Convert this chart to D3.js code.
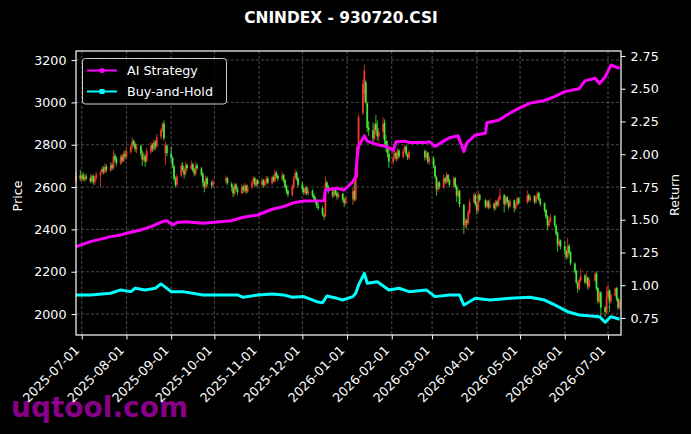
<!DOCTYPE html>
<html>
<head>
<meta charset="utf-8">
<script src="https://cdn.jsdelivr.net/npm/d3@7"></script>
<style>
html, body { margin: 0; padding: 0; background: #000; }
svg { display: block; font-family: "DejaVu Sans", sans-serif; }
</style>
</head>
<body>
<svg id="chart"></svg>
<script>
const width = 691;
const height = 434;
const plotLeft = 76, plotRight = 621, plotTop = 51, plotBottom = 335;

// date, open, high, low, close
const candles = [
["2025-06-27",2632,2668,2618,2650],["2025-06-30",2655,2682,2628,2640],
["2025-07-01",2638,2664,2626,2655],["2025-07-02",2658,2670,2630,2635],["2025-07-03",2632,2660,2624,2648],
["2025-07-04",2650,2664,2632,2640],["2025-07-07",2642,2656,2618,2628],["2025-07-08",2626,2662,2620,2650],
["2025-07-09",2652,2660,2612,2625],["2025-07-10",2622,2652,2610,2642],["2025-07-11",2640,2672,2635,2660],
["2025-07-14",2655,2680,2600,2668],["2025-07-15",2670,2698,2662,2685],["2025-07-16",2688,2700,2660,2672],
["2025-07-17",2670,2712,2664,2695],["2025-07-18",2698,2708,2668,2680],["2025-07-21",2678,2718,2672,2700],
["2025-07-22",2705,2715,2680,2690],["2025-07-23",2688,2775,2682,2745],["2025-07-24",2748,2760,2718,2730],
["2025-07-25",2735,2745,2698,2712],["2025-07-28",2710,2752,2705,2740],["2025-07-29",2745,2756,2715,2725],
["2025-07-30",2722,2768,2718,2755],["2025-07-31",2758,2775,2732,2745],
["2025-08-01",2742,2785,2730,2770],["2025-08-04",2765,2802,2755,2790],["2025-08-05",2792,2835,2780,2815],
["2025-08-06",2818,2826,2790,2800],["2025-08-07",2802,2812,2765,2780],["2025-08-08",2778,2805,2760,2790],
["2025-08-11",2795,2800,2748,2760],["2025-08-12",2758,2772,2700,2730],["2025-08-13",2728,2765,2718,2745],
["2025-08-14",2748,2755,2695,2720],["2025-08-15",2722,2785,2715,2770],["2025-08-18",2768,2812,2755,2795],
["2025-08-19",2800,2808,2765,2780],["2025-08-20",2778,2825,2770,2810],["2025-08-21",2815,2822,2775,2790],
["2025-08-22",2792,2850,2785,2835],["2025-08-25",2838,2880,2825,2870],["2025-08-26",2868,2905,2860,2895],
["2025-08-27",2900,2915,2820,2830],["2025-08-28",2760,2815,2705,2800],["2025-08-29",2795,2800,2745,2760],
["2025-09-01",2758,2790,2720,2740],["2025-09-02",2738,2745,2690,2700],["2025-09-03",2698,2705,2630,2640],
["2025-09-04",2638,2650,2598,2610],["2025-09-05",2612,2662,2605,2650],["2025-09-08",2655,2712,2645,2700],
["2025-09-09",2702,2718,2672,2680],["2025-09-10",2678,2690,2640,2660],["2025-09-11",2662,2720,2655,2700],
["2025-09-12",2705,2712,2678,2690],["2025-09-15",2688,2725,2680,2705],["2025-09-16",2708,2715,2672,2680],
["2025-09-17",2682,2690,2650,2665],["2025-09-18",2660,2718,2655,2700],["2025-09-19",2702,2712,2680,2690],
["2025-09-22",2688,2695,2650,2660],["2025-09-23",2662,2670,2605,2620],["2025-09-24",2622,2630,2575,2600],
["2025-09-25",2598,2655,2592,2640],["2025-09-26",2642,2650,2605,2615],["2025-09-29",2618,2630,2595,2610],
["2025-09-30",2608,2640,2600,2625],
["2025-10-09",2628,2655,2615,2640],["2025-10-10",2642,2648,2610,2620],["2025-10-13",2615,2625,2580,2600],
["2025-10-14",2598,2605,2552,2570],["2025-10-15",2568,2620,2560,2610],["2025-10-16",2612,2618,2580,2590],
["2025-10-17",2588,2598,2562,2575],["2025-10-20",2572,2615,2565,2600],["2025-10-21",2602,2610,2572,2585],
["2025-10-22",2582,2620,2575,2605],["2025-10-23",2608,2612,2568,2580],["2025-10-24",2578,2612,2572,2600],
["2025-10-27",2602,2632,2592,2620],["2025-10-28",2622,2652,2615,2640],["2025-10-29",2642,2648,2600,2610],
["2025-10-30",2608,2640,2598,2630],["2025-10-31",2632,2638,2605,2615],
["2025-11-03",2612,2645,2605,2630],["2025-11-04",2632,2638,2598,2610],["2025-11-05",2608,2635,2600,2625],
["2025-11-06",2622,2652,2615,2640],["2025-11-07",2642,2650,2612,2620],["2025-11-10",2618,2655,2610,2645],
["2025-11-11",2648,2655,2622,2630],["2025-11-12",2628,2682,2622,2665],["2025-11-13",2668,2675,2640,2650],
["2025-11-14",2652,2660,2628,2640],["2025-11-17",2638,2672,2630,2655],["2025-11-18",2658,2662,2620,2630],
["2025-11-19",2632,2638,2592,2600],["2025-11-20",2602,2610,2568,2580],["2025-11-21",2582,2590,2552,2565],
["2025-11-24",2562,2612,2555,2600],["2025-11-25",2598,2650,2592,2640],["2025-11-26",2642,2682,2635,2665],
["2025-11-27",2668,2675,2630,2640],["2025-11-28",2642,2648,2600,2610],
["2025-12-01",2612,2625,2578,2590],["2025-12-02",2592,2600,2562,2575],["2025-12-03",2572,2608,2565,2595],
["2025-12-04",2598,2602,2560,2570],["2025-12-05",2568,2592,2560,2580],["2025-12-08",2582,2590,2550,2560],
["2025-12-09",2562,2570,2535,2545],["2025-12-10",2548,2555,2520,2530],["2025-12-11",2532,2540,2500,2510],
["2025-12-12",2508,2525,2490,2500],["2025-12-15",2502,2510,2462,2470],["2025-12-16",2468,2480,2445,2460],
["2025-12-17",2462,2650,2458,2620],["2025-12-18",2622,2630,2590,2600],["2025-12-19",2602,2610,2570,2580],
["2025-12-22",2578,2590,2548,2560],["2025-12-23",2558,2600,2552,2585],["2025-12-24",2588,2595,2560,2570],
["2025-12-25",2572,2580,2540,2555],["2025-12-26",2552,2578,2545,2565],["2025-12-29",2568,2572,2530,2540],
["2025-12-30",2542,2550,2505,2525],["2025-12-31",2522,2560,2515,2545],
["2026-01-05",2545,2595,2515,2580],["2026-01-06",2582,2625,2530,2540],["2026-01-07",2542,2650,2535,2640],
["2026-01-08",2650,2800,2640,2790],["2026-01-09",2795,2945,2785,2930],["2026-01-12",2950,3110,2940,3090],
["2026-01-13",3040,3180,3000,3150],["2026-01-14",3095,3105,2990,3000],["2026-01-15",2995,3000,2860,2880],
["2026-01-16",2882,2912,2842,2870],["2026-01-19",2868,2905,2810,2830],["2026-01-20",2828,2900,2820,2890],
["2026-01-21",2900,2940,2850,2870],["2026-01-22",2872,2915,2820,2840],["2026-01-23",2838,2880,2810,2860],
["2026-01-26",2862,2930,2830,2900],["2026-01-27",2905,2920,2800,2820],["2026-01-28",2818,2845,2765,2790],
["2026-01-29",2792,2820,2740,2760],["2026-01-30",2758,2785,2690,2720],
["2026-02-02",2718,2770,2705,2740],["2026-02-03",2742,2775,2730,2760],["2026-02-04",2762,2768,2722,2735],
["2026-02-05",2732,2785,2725,2770],["2026-02-06",2772,2780,2735,2745],["2026-02-09",2742,2782,2735,2770],
["2026-02-10",2772,2800,2762,2790],["2026-02-11",2792,2798,2745,2755],["2026-02-12",2752,2762,2728,2740],
["2026-02-13",2738,2775,2730,2765],["2026-02-24",2770,2778,2725,2740],["2026-02-25",2738,2772,2730,2760],
["2026-02-26",2762,2768,2710,2720],["2026-02-27",2718,2748,2705,2735],
["2026-03-02",2735,2745,2690,2700],["2026-03-03",2698,2705,2640,2650],["2026-03-04",2648,2655,2560,2590],
["2026-03-05",2588,2632,2578,2620],["2026-03-06",2622,2628,2590,2600],["2026-03-09",2598,2660,2592,2640],
["2026-03-10",2642,2648,2615,2625],["2026-03-11",2622,2670,2615,2655],["2026-03-12",2658,2662,2620,2630],
["2026-03-13",2632,2640,2600,2610],["2026-03-16",2608,2650,2600,2640],["2026-03-17",2642,2648,2592,2600],
["2026-03-18",2602,2610,2530,2560],["2026-03-19",2558,2595,2548,2580],["2026-03-20",2582,2588,2505,2520],
["2026-03-23",2515,2520,2378,2420],["2026-03-24",2418,2455,2405,2440],["2026-03-25",2442,2450,2405,2430],
["2026-03-26",2428,2495,2420,2480],["2026-03-27",2478,2545,2470,2530],["2026-03-30",2528,2575,2520,2560],
["2026-03-31",2562,2570,2510,2520],
["2026-04-01",2518,2528,2470,2490],["2026-04-02",2488,2585,2480,2565],["2026-04-03",2562,2570,2530,2540],
["2026-04-07",2538,2545,2500,2510],["2026-04-08",2508,2540,2500,2530],["2026-04-09",2532,2538,2495,2505],
["2026-04-10",2502,2545,2498,2520],["2026-04-13",2522,2528,2488,2500],["2026-04-14",2498,2540,2492,2530],
["2026-04-15",2532,2538,2505,2515],["2026-04-16",2512,2555,2508,2545],["2026-04-17",2542,2595,2538,2560],
["2026-04-20",2562,2568,2480,2520],["2026-04-21",2518,2560,2512,2550],["2026-04-22",2552,2558,2522,2530],
["2026-04-23",2532,2538,2495,2510],["2026-04-24",2508,2545,2502,2535],["2026-04-27",2538,2542,2480,2500],
["2026-04-28",2498,2530,2492,2520],["2026-04-29",2518,2555,2512,2545],["2026-04-30",2548,2552,2515,2525],
["2026-05-06",2528,2585,2520,2560],["2026-05-07",2562,2570,2530,2540],["2026-05-08",2538,2565,2530,2555],
["2026-05-11",2558,2562,2520,2530],["2026-05-12",2528,2560,2522,2550],["2026-05-13",2548,2580,2542,2570],
["2026-05-14",2572,2578,2532,2540],["2026-05-15",2542,2548,2508,2520],["2026-05-18",2522,2528,2480,2490],
["2026-05-19",2492,2498,2450,2460],["2026-05-20",2462,2468,2395,2420],["2026-05-21",2418,2450,2410,2440],
["2026-05-22",2438,2475,2432,2460],["2026-05-25",2462,2468,2410,2420],["2026-05-26",2418,2425,2370,2380],
["2026-05-27",2382,2390,2295,2330],["2026-05-28",2328,2360,2318,2345],["2026-05-29",2348,2352,2305,2320],
["2026-06-01",2322,2345,2280,2300],["2026-06-02",2298,2305,2255,2270],["2026-06-03",2268,2360,2262,2320],
["2026-06-04",2322,2330,2280,2290],["2026-06-05",2292,2298,2230,2240],["2026-06-08",2238,2245,2190,2200],
["2026-06-09",2202,2210,2140,2150],["2026-06-10",2148,2155,2100,2120],["2026-06-11",2118,2170,2112,2160],
["2026-06-12",2158,2215,2150,2180],["2026-06-15",2182,2190,2140,2150],["2026-06-16",2148,2195,2142,2170],
["2026-06-17",2172,2178,2115,2130],["2026-06-18",2128,2170,2120,2160],["2026-06-22",2158,2200,2150,2190],
["2026-06-23",2192,2198,2110,2120],["2026-06-24",2122,2128,2050,2060],["2026-06-25",2058,2110,2052,2100],
["2026-06-26",2102,2108,1990,2030],["2026-06-29",2032,2040,1985,2010],["2026-06-30",2008,2130,2002,2080],
["2026-07-01",2082,2140,2075,2110],["2026-07-02",2112,2118,2010,2060],["2026-07-03",2058,2100,2050,2090],
["2026-07-06",2088,2125,2082,2120],["2026-07-07",2122,2128,2060,2070],["2026-07-08",2072,2078,2020,2030],
["2026-07-09",2028,2070,2022,2060]
];

const aiStrategy = [
["2025-06-27",1.295],["2025-07-07",1.333],["2025-07-21",1.371],["2025-07-28",1.384],["2025-08-01",1.397],
["2025-08-11",1.422],["2025-08-18",1.447],["2025-08-26",1.485],["2025-08-29",1.493],["2025-09-02",1.460],
["2025-09-05",1.478],["2025-09-11",1.485],["2025-09-23",1.473],["2025-10-13",1.493],["2025-10-21",1.519],
["2025-10-31",1.536],["2025-11-10",1.580],["2025-11-18",1.600],["2025-11-25",1.630],["2025-12-02",1.643],
["2025-12-16",1.645],["2025-12-17",1.727],["2025-12-25",1.740],["2025-12-30",1.727],["2026-01-05",1.790],
["2026-01-07",1.830],["2026-01-08",1.980],["2026-01-09",2.060],["2026-01-13",2.140],["2026-01-15",2.100],
["2026-01-23",2.070],["2026-01-28",2.060],["2026-02-02",2.030],["2026-02-04",2.096],["2026-02-10",2.100],
["2026-02-13",2.090],["2026-02-24",2.090],["2026-02-27",2.096],["2026-03-03",2.060],["2026-03-09",2.100],
["2026-03-13",2.126],["2026-03-19",2.140],["2026-03-23",2.020],["2026-03-25",2.086],["2026-03-31",2.147],
["2026-04-07",2.160],["2026-04-08",2.240],["2026-04-16",2.260],["2026-04-23",2.307],["2026-04-30",2.350],
["2026-05-08",2.390],["2026-05-18",2.410],["2026-05-25",2.440],["2026-06-01",2.478],["2026-06-11",2.500],
["2026-06-15",2.560],["2026-06-22",2.580],["2026-06-25",2.540],["2026-06-29",2.590],["2026-07-03",2.680],
["2026-07-06",2.668],["2026-07-09",2.656]
];

const buyHold = [
["2025-06-27",0.926],["2025-07-07",0.926],["2025-07-21",0.939],["2025-07-28",0.964],["2025-08-04",0.951],
["2025-08-07",0.977],["2025-08-14",0.964],["2025-08-21",0.977],["2025-08-25",1.010],["2025-09-01",0.951],
["2025-09-09",0.951],["2025-09-23",0.926],["2025-10-17",0.926],["2025-10-21",0.908],["2025-10-31",0.926],
["2025-11-10",0.933],["2025-11-18",0.926],["2025-11-24",0.908],["2025-12-02",0.913],["2025-12-11",0.874],
["2025-12-15",0.867],["2025-12-18",0.918],["2025-12-25",0.900],["2025-12-29",0.887],["2026-01-05",0.913],
["2026-01-07",0.939],["2026-01-09",1.002],["2026-01-13",1.091],["2026-01-15",1.015],["2026-01-22",1.027],
["2026-01-30",0.964],["2026-02-06",0.977],["2026-02-13",0.951],["2026-02-25",0.964],["2026-03-03",0.913],
["2026-03-13",0.926],["2026-03-20",0.926],["2026-03-23",0.849],["2026-03-31",0.900],["2026-04-10",0.887],
["2026-04-24",0.900],["2026-05-08",0.908],["2026-05-18",0.887],["2026-05-25",0.850],["2026-06-03",0.798],
["2026-06-11",0.773],["2026-06-25",0.760],["2026-06-29",0.717],["2026-07-03",0.760],["2026-07-09",0.740]
];

const priceTicks = [2000, 2200, 2400, 2600, 2800, 3000, 3200];
const returnTicks = [0.75, 1.00, 1.25, 1.50, 1.75, 2.00, 2.25, 2.50, 2.75];
const dateTicks = ["2025-07-01","2025-08-01","2025-09-01","2025-10-01","2025-11-01","2025-12-01",
  "2026-01-01","2026-02-01","2026-03-01","2026-04-01","2026-05-01","2026-06-01","2026-07-01"];

const parse = d3.timeParse("%Y-%m-%d");
const fontSize = 12.7;

let svg = d3.select("#chart")
  .attr("width", width)
  .attr("height", height)
  .style("background", "#000");

svg.append("rect").attr("width", width).attr("height", height).attr("fill", "#000");

// watermark sits under everything else
svg.append("text")
  .attr("x", 11)
  .attr("y", 417)
  .attr("fill", "#880088")
  .style("font-size", "28px")
  .style("font-weight", "bold")
  .text("uqtool.com");

let scaleX = d3.scaleTime()
  .domain([parse("2025-06-27"), parse("2026-07-10")])
  .range([plotLeft, plotRight]);

let scaleP = d3.scaleLinear()
  .domain([1901, 3243])
  .range([plotBottom, plotTop]);

let scaleR = d3.scaleLinear()
  .domain([0.62, 2.788])
  .range([plotBottom, plotTop]);

// grid
let grid = svg.append("g").attr("stroke", "#6a6a6a").attr("stroke-width", 0.7).attr("stroke-dasharray", "3,2");
dateTicks.forEach(d => {
  grid.append("line")
    .attr("x1", scaleX(parse(d))).attr("x2", scaleX(parse(d)))
    .attr("y1", plotTop).attr("y2", plotBottom);
});
priceTicks.forEach(p => {
  grid.append("line")
    .attr("x1", plotLeft).attr("x2", plotRight)
    .attr("y1", scaleP(p)).attr("y2", scaleP(p));
});

// candlesticks
let candleG = svg.append("g");
candles.forEach(c => {
  const [date, o, h, l, cl] = c;
  const x = scaleX(parse(date));
  const color = cl >= o ? "#ff3b30" : "#47f23a";
  candleG.append("line")
    .attr("x1", x).attr("x2", x)
    .attr("y1", scaleP(h)).attr("y2", scaleP(l))
    .attr("stroke", color).attr("stroke-width", 0.9).attr("opacity", 0.85);
  const yTop = scaleP(Math.max(o, cl));
  const yBot = scaleP(Math.min(o, cl));
  candleG.append("rect")
    .attr("x", x - 0.9).attr("width", 1.8)
    .attr("y", yTop).attr("height", Math.max(0.8, yBot - yTop))
    .attr("fill", color).attr("opacity", 0.9);
});

// return lines
let line = d3.line()
  .x(d => scaleX(parse(d[0])))
  .y(d => scaleR(d[1]))
  .curve(d3.curveLinear);

svg.append("path")
  .datum(aiStrategy)
  .attr("d", line)
  .attr("fill", "none")
  .attr("stroke", "#ff00ff")
  .attr("stroke-width", 3)
  .attr("stroke-linejoin", "round");

svg.append("path")
  .datum(buyHold)
  .attr("d", line)
  .attr("fill", "none")
  .attr("stroke", "#00ffff")
  .attr("stroke-width", 3)
  .attr("stroke-linejoin", "round");

// axes
function styleAxis(g) {
  g.select(".domain").remove();
  g.selectAll(".tick line").attr("stroke", "#fff");
  g.selectAll(".tick text").attr("fill", "#fff").style("font-size", fontSize + "px")
    .style("font-family", "DejaVu Sans, sans-serif");
}

let axisLeft = svg.append("g")
  .attr("transform", `translate(${plotLeft}, 0)`)
  .call(d3.axisLeft(scaleP).tickValues(priceTicks).tickSize(4.5).tickPadding(5).tickFormat(d3.format("d")));
styleAxis(axisLeft);

let axisRight = svg.append("g")
  .attr("transform", `translate(${plotRight}, 0)`)
  .call(d3.axisRight(scaleR).tickValues(returnTicks).tickSize(4.5).tickPadding(5).tickFormat(d3.format(".2f")));
styleAxis(axisRight);

let axisBottom = svg.append("g")
  .attr("transform", `translate(0, ${plotBottom})`)
  .call(d3.axisBottom(scaleX).tickValues(dateTicks.map(parse)).tickSize(4.5).tickFormat(d3.timeFormat("%Y-%m-%d")));
styleAxis(axisBottom);
axisBottom.selectAll(".tick text")
  .attr("x", 0).attr("y", 0).attr("dy", null)
  .attr("text-anchor", "end")
  .attr("transform", "translate(-2, 16) rotate(-45)");

// frame
svg.append("rect")
  .attr("x", plotLeft).attr("y", plotTop)
  .attr("width", plotRight - plotLeft).attr("height", plotBottom - plotTop)
  .attr("fill", "none").attr("stroke", "#fff").attr("stroke-width", 1.2);

// axis labels
svg.append("text")
  .attr("transform", "translate(22, 196) rotate(-90)")
  .attr("text-anchor", "middle")
  .attr("fill", "#fff").style("font-size", fontSize + "px")
  .text("Price");

svg.append("text")
  .attr("transform", "translate(679, 195) rotate(-90)")
  .attr("text-anchor", "middle")
  .attr("fill", "#fff").style("font-size", fontSize + "px")
  .text("Return");

// title
svg.append("text")
  .attr("x", 341).attr("y", 23)
  .attr("text-anchor", "middle")
  .attr("fill", "#fff")
  .style("font-size", "15.4px")
  .style("font-weight", "bold")
  .text("CNINDEX - 930720.CSI");

// legend
let legend = svg.append("g");
legend.append("rect")
  .attr("x", 82.5).attr("y", 58.5).attr("width", 144).attr("height", 45.5).attr("rx", 3)
  .attr("fill", "#000").attr("fill-opacity", 0.8)
  .attr("stroke", "#cfcfcf").attr("stroke-width", 1);

legend.append("line").attr("x1", 87).attr("x2", 117).attr("y1", 70.5).attr("y2", 70.5)
  .attr("stroke", "#ff00ff").attr("stroke-width", 2);
legend.append("circle").attr("cx", 102).attr("cy", 70.5).attr("r", 2.6).attr("fill", "#ff00ff");
legend.append("text").attr("x", 127).attr("y", 75).attr("fill", "#fff")
  .style("font-size", fontSize + "px").text("AI Strategy");

legend.append("line").attr("x1", 87).attr("x2", 117).attr("y1", 91.5).attr("y2", 91.5)
  .attr("stroke", "#00ffff").attr("stroke-width", 2);
legend.append("rect").attr("x", 99.5).attr("y", 89).attr("width", 5).attr("height", 5).attr("fill", "#00ffff");
legend.append("text").attr("x", 127).attr("y", 96).attr("fill", "#fff")
  .style("font-size", fontSize + "px").text("Buy-and-Hold");
</script>
</body>
</html>
